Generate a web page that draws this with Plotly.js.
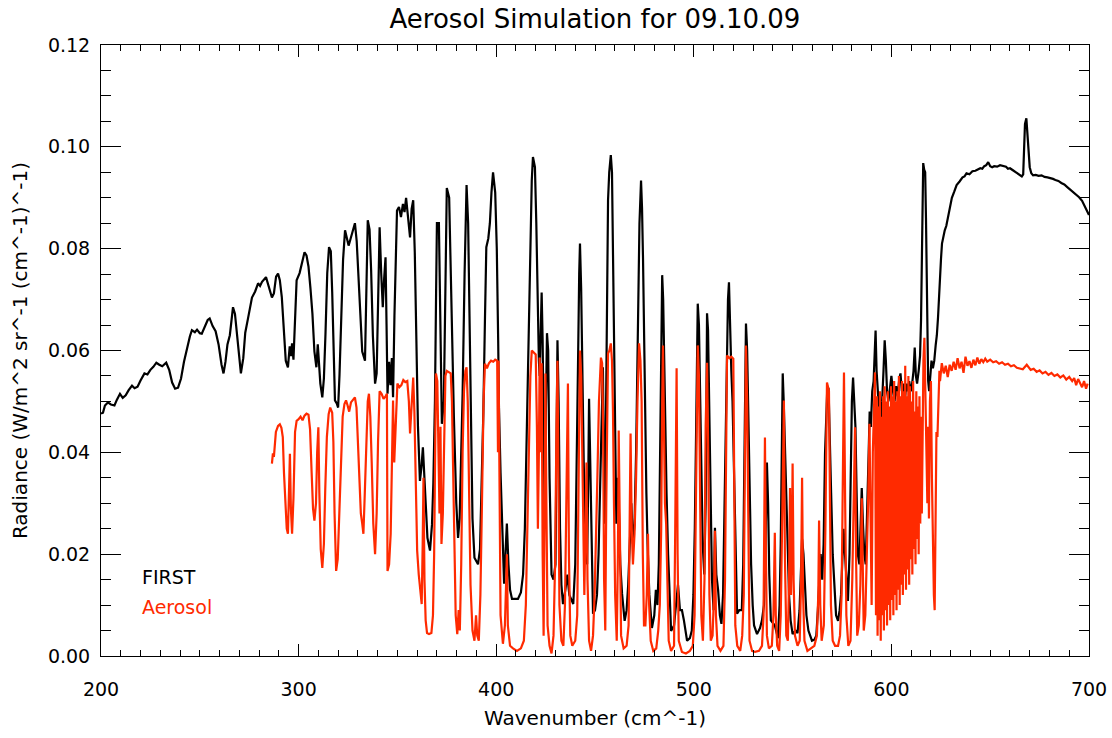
<!DOCTYPE html>
<html><head><meta charset="utf-8">
<script src="https://cdn.plot.ly/plotly-3.0.1.min.js"></script>
<style>html,body{margin:0;padding:0;background:#fff}</style>
</head><body><div id="chart" style="width:1112px;height:738px"></div>
<script>
// ---------- data (wavenumber cm^-1, radiance) ----------
const firstPart1 = [[200,0.0476],[201,0.0478],[202,0.0492],[203.5,0.0498],[205,0.0494],[206.8,0.0492],[208,0.0503],[209.6,0.0515],[211,0.0507],[212.5,0.0512],[214,0.0522],[215.7,0.0531],[217,0.0526],[218.5,0.0529],[220,0.0541],[222,0.0555],[223.5,0.0553],[225,0.0562],[226.5,0.0568],[228,0.0576],[229.5,0.0572],[231,0.0569],[233,0.0576],[234.5,0.0562],[236,0.0537],[237.5,0.0525],[239,0.0527],[240.5,0.0545],[242,0.0578],[243.5,0.0606],[245,0.0628],[246,0.064],[247.5,0.0636],[248.6,0.0641],[250,0.0634],[251,0.0633],[252.5,0.0645],[254,0.066],[255,0.0663],[256.5,0.0648],[258,0.0638],[259.5,0.0612],[261,0.0572],[262,0.0555],[263,0.0578],[264,0.0612],[265.2,0.063],[266.2,0.0672],[266.8,0.0685],[267.8,0.0672],[268.6,0.064],[269.5,0.0592],[270.8,0.0555],[272,0.0585],[273,0.0635],[274.5,0.0665],[276.4,0.0704],[278,0.0716],[279.5,0.0732],[280.5,0.0727],[281.5,0.0735],[283.5,0.0744],[285,0.0722],[286.5,0.0704],[287.5,0.0712],[288.6,0.0745],[289.6,0.0751],[290.5,0.0738]];
const firstPart2 = [[291.5,0.0705],[292.5,0.064],[293.5,0.058],[294.6,0.0567],[295.5,0.0608],[296.1,0.0589],[296.7,0.0614],[297.4,0.0582],[298.2,0.0665],[299,0.0738],[300.5,0.0752],[302,0.0778],[303,0.0793],[304,0.0787],[305,0.0765],[306,0.0722],[307,0.0672],[308,0.0598],[309,0.0567],[309.7,0.0612],[310.3,0.0575],[311,0.0535],[312,0.0508],[312.8,0.0545],[313.6,0.0632],[314.5,0.0752],[315.4,0.0803],[316.3,0.0795],[317,0.0715],[317.7,0.0608],[318.4,0.0502],[319.3,0.0496],[320,0.0488],[320.7,0.0552],[321.6,0.0665],[322.5,0.0778],[323.5,0.0836],[324.5,0.0822],[325.3,0.0806],[326.2,0.0818],[327.2,0.0834],[328.5,0.085],[329.4,0.0815],[330.3,0.0748],[331.2,0.0662],[332.2,0.0598],[333.6,0.058],[334.3,0.0702],[335,0.0856],[335.9,0.0838],[336.7,0.0758],[337.6,0.0628],[338.7,0.0535],[339.5,0.0555],[340.3,0.0705],[341,0.0842],[341.8,0.0752],[342.6,0.0685],[343.3,0.0742],[344,0.0783],[344.5,0.0652],[345,0.0515],[345.8,0.0578],[346.5,0.0532],[347.2,0.0585],[347.8,0.0508],[348.5,0.0668],[349.2,0.0812],[349.8,0.0875],[350.8,0.0882],[351.8,0.0862],[352.8,0.0888],[353.6,0.0872],[354.4,0.09],[355.4,0.0858],[356.4,0.0822],[357.2,0.0878],[358,0.0895],[358.8,0.0792],[359.4,0.0645],[360.4,0.0452],[361.4,0.0344],[362.2,0.0372],[362.9,0.041],[363.6,0.0352],[364.4,0.0295],[365.2,0.0232],[366.5,0.0207],[367.5,0.0258]];
const firstPart3 = [[368.2,0.034],[369,0.05],[369.6,0.072],[370,0.085],[371,0.085],[371.8,0.067],[372.5,0.0456],[373.5,0.05],[374.3,0.078],[375,0.0919],[376.2,0.09],[377,0.075],[377.8,0.06],[378.6,0.0468],[379.8,0.03],[380.7,0.0232],[381.5,0.027],[382.3,0.038],[383,0.0515],[384,0.075],[385,0.0925],[385.8,0.085],[386.5,0.065],[387.2,0.042],[388,0.027],[389,0.0193],[390,0.0185],[390.8,0.018],[391.8,0.021],[392.6,0.032],[393.5,0.048],[394.3,0.066],[395,0.0803],[396,0.082],[396.8,0.085],[397.6,0.091],[398.4,0.095],[399.5,0.091],[400.3,0.08],[401,0.062],[401.4,0.0488],[402.2,0.036],[403,0.027],[404,0.0142],[404.8,0.021],[405.4,0.026],[406.2,0.018],[407,0.013],[408,0.0112],[411,0.0112],[412.5,0.0125],[413.6,0.016],[414.5,0.025],[415.2,0.04],[416,0.055],[416.8,0.075],[417.5,0.088],[418,0.0934],[418.6,0.098],[419.6,0.096],[420.3,0.085],[421,0.068],[421.6,0.058],[422,0.055],[422.5,0.065],[423,0.0714],[423.5,0.062],[424,0.042],[424.5,0.028],[425.2,0.05],[425.7,0.0634],[426.3,0.06],[427,0.035],[428,0.016],[429,0.015],[430,0.018],[430.6,0.045],[431,0.062],[431.6,0.05],[432.3,0.025],[433,0.014],[433.8,0.0102],[435,0.013],[436,0.016],[437,0.012],[438,0.011],[439,0.0102],[440,0.018],[440.7,0.034],[441.5,0.06],[442,0.075],[442.4,0.081],[443,0.072],[443.6,0.055],[444.3,0.038],[445,0.026],[446,0.018],[446.6,0.035],[447,0.0505],[447.6,0.038],[448.3,0.02],[449,0.0083]];
const firstPart4 = [[450,0.009],[451,0.012],[451.8,0.02],[452.5,0.032],[453.3,0.048],[454,0.0567],[454.5,0.04],[455,0.026],[455.5,0.045],[455.8,0.061],[456.2,0.078],[456.6,0.0895],[457.2,0.095],[458,0.0984],[458.6,0.095],[459,0.083],[459.6,0.064],[460.2,0.042],[460.8,0.026],[461.4,0.035],[462,0.03],[462.8,0.018],[463.7,0.0122],[465,0.0069],[466,0.009],[466.8,0.014],[467.6,0.022],[468.4,0.03],[469.2,0.022],[470,0.026],[470.8,0.04],[471.3,0.055],[471.8,0.0704],[472.5,0.085],[473.3,0.0934],[473.8,0.088],[474.3,0.078],[474.8,0.062],[475.3,0.048],[476,0.032],[476.6,0.022],[477.5,0.012],[478.8,0.0055],[480,0.008],[480.8,0.013],[481.6,0.01],[482.3,0.018],[483,0.045],[483.6,0.062],[484,0.0748],[484.5,0.07],[485,0.058],[485.6,0.045],[486.2,0.032],[487,0.02],[487.8,0.01],[488.5,0.0049],[490,0.006],[491,0.01],[492,0.014],[493,0.009],[494,0.009],[495,0.007],[496.6,0.003],[498,0.0035],[499,0.005],[499.8,0.012],[500.5,0.025],[501.2,0.045],[501.6,0.058],[502,0.0692],[502.6,0.065],[503.2,0.05],[503.8,0.032],[504.5,0.022],[505.3,0.016],[506,0.03],[506.4,0.05],[506.7,0.0673],[507.2,0.064],[507.8,0.05],[508.5,0.032],[509.2,0.015],[510,0.009],[510.7,0.0252],[511.4,0.016],[512.3,0.013],[513.2,0.008],[514,0.0063],[514.8,0.012],[515.5,0.028],[516.2,0.05],[516.8,0.062],[517.3,0.07],[517.8,0.0734],[518.4,0.062],[519,0.056],[519.6,0.05],[520.2,0.038],[520.8,0.025],[521.4,0.012],[521.9,0.0083],[523,0.009],[524.3,0.009],[525,0.018],[525.6,0.038],[526,0.055],[526.4,0.0653],[527,0.06],[527.6,0.045],[528.3,0.03],[529,0.018],[529.8,0.01],[530.5,0.006],[532,0.0043],[533.5,0.0055],[534.5,0.007],[535.5,0.01],[536.3,0.022],[537,0.038],[537.6,0.03],[538.2,0.016],[539,0.007],[540,0.0065]];
const firstPart5 = [[541,0.006],[542.6,0.0035],[543.4,0.01],[544,0.022],[544.5,0.04],[545,0.0555],[545.5,0.05],[546,0.042],[546.8,0.03],[547.5,0.02],[548.2,0.012],[549,0.007],[550,0.0043],[551.5,0.005],[552.5,0.0045],[553.5,0.009],[554.2,0.015],[554.8,0.023],[555.5,0.02],[556.2,0.014],[557,0.008],[558,0.005],[559.8,0.003],[561,0.0032],[562,0.004],[562.8,0.009],[563.5,0.016],[564.2,0.02],[565,0.015],[565.7,0.022],[566.4,0.0397],[567,0.048],[567.6,0.053],[568.2,0.0525],[568.8,0.045],[569.5,0.032],[570.3,0.02],[571.2,0.012],[572,0.008],[573,0.0069],[573.8,0.009],[574.5,0.012],[575.2,0.02],[575.8,0.025],[576.5,0.02],[577.2,0.016],[578,0.0108],[578.8,0.02],[579.4,0.038],[580,0.05],[580.6,0.0547],[581.2,0.05],[581.8,0.045],[582.4,0.032],[583,0.02],[583.8,0.018],[584.5,0.028],[585,0.033],[585.6,0.026],[586.3,0.02],[587,0.018],[587.8,0.028],[588.5,0.04],[589,0.048],[589.6,0.045],[590.3,0.052],[591,0.054],[591.6,0.06],[592,0.0639],[592.5,0.056],[593,0.052],[593.8,0.048],[594.5,0.046],[595.3,0.05],[596,0.056],[596.6,0.062],[597.2,0.058],[597.8,0.052],[598.5,0.05],[599.3,0.053],[600,0.055],[600.8,0.052],[601.6,0.05],[602.4,0.053],[603.2,0.051],[604,0.0545],[604.6,0.0555],[605.3,0.052],[606,0.0535],[606.8,0.05],[607.5,0.0535],[608.2,0.052],[609,0.054],[609.8,0.052],[610.5,0.0535],[611.2,0.056],[611.8,0.0606],[612.4,0.055],[613,0.0535],[613.8,0.056],[614.5,0.059],[615,0.066],[615.5,0.0777],[615.8,0.09],[616.1,0.0968],[616.6,0.0955],[617.1,0.095],[617.5,0.086],[617.8,0.075],[618.2,0.062],[618.6,0.054],[619.1,0.052],[619.6,0.055],[620.3,0.058],[621,0.0565],[621.7,0.058],[622.4,0.061],[623,0.063],[623.6,0.0665],[624.1,0.071],[624.6,0.075]];
const firstPart6 = [[625.1,0.078],[625.6,0.081],[626.3,0.0825],[627,0.0836],[627.8,0.0845],[628.5,0.086],[629.5,0.088],[630.6,0.09],[631.8,0.0912],[633,0.0925],[634.5,0.0932],[636,0.094],[637,0.0942],[638,0.0948],[639.5,0.0946],[641,0.0952],[642.5,0.0953],[644,0.0956],[645,0.0958],[646,0.0957],[647,0.0962],[648,0.0964],[649,0.097],[650,0.0962],[651,0.096],[652,0.0962],[653.5,0.0961],[655,0.0964],[656.5,0.0962],[658,0.0961],[659,0.0957],[660,0.0958],[661.5,0.0954],[663,0.095],[664.5,0.0946],[666,0.0942],[666.7,0.0946],[667.2,0.0985],[667.6,0.1045],[668.3,0.1056],[668.8,0.102],[669.3,0.099],[670,0.096],[670.8,0.0948],[671.7,0.0944],[673,0.0945],[674.5,0.0943],[676,0.0944],[677.5,0.0941],[679,0.094],[680.5,0.0939],[681.8,0.0937],[683,0.0935],[684.5,0.0933],[686,0.0929],[687.5,0.0926],[689,0.0921],[690.5,0.0916],[692,0.0911],[693.5,0.0906],[695,0.0901],[696.5,0.0894],[697.5,0.0886],[698.5,0.0878],[699.5,0.087],[700,0.0866]];

const aeroPart1 = [[286.5,0.0378],[287,0.0398],[287.5,0.0391],[288.5,0.044],[289.6,0.0452],[290.5,0.0455],[291.3,0.0448],[292,0.043],[292.6,0.036],[293.4,0.029],[294,0.025],[294.6,0.024],[295.1,0.031],[295.6,0.0397],[296.1,0.029],[296.7,0.024],[297.4,0.031],[298.2,0.044],[299,0.0462],[300,0.0465],[301,0.047],[302,0.0463],[303,0.0472],[304,0.0476],[305,0.0474],[305.8,0.0445],[306.6,0.036],[307.3,0.029],[308,0.0266],[308.8,0.03],[309.4,0.04],[310,0.0449],[310.5,0.032],[311.2,0.021],[312,0.0173],[312.8,0.022],[313.5,0.033],[314.3,0.043],[315.2,0.0475],[316,0.0488],[317,0.0478],[317.6,0.042],[318.2,0.028],[319,0.0167],[319.8,0.019],[320.6,0.028],[321.4,0.04],[322.3,0.047],[323.2,0.0495],[324,0.0502],[324.8,0.0492],[325.6,0.048],[326.5,0.0498],[327.5,0.0502],[328.5,0.0508],[329.3,0.0488],[330,0.042],[330.7,0.033],[331.5,0.028],[332.2,0.026],[332.8,0.024],[333.5,0.032],[334.3,0.043],[335,0.05],[335.6,0.0515],[336.3,0.047],[337,0.038],[337.8,0.026],[338.7,0.02],[339.5,0.028],[340.2,0.042],[341,0.052],[342,0.0515],[343,0.0505],[344,0.051],[344.7,0.0515],[345,0.0167],[345.8,0.018],[346.6,0.024],[347.3,0.036],[347.8,0.0502],[348.4,0.038],[349.2,0.048],[350,0.0535],[351,0.0528],[352,0.0532],[353,0.0542],[354,0.0538],[355,0.054],[355.8,0.05],[356.4,0.0437],[357.2,0.0505],[358,0.0547],[358.6,0.048],[359.2,0.034],[360,0.0207],[360.8,0.016],[361.5,0.013],[362.3,0.0102],[362.8,0.022],[363.2,0.035],[363.7,0.015],[364.3,0.007],[365,0.0045]];
const aeroPart2 = [[366,0.0043],[367.2,0.0045],[368,0.008],[368.6,0.02],[369,0.038],[369.5,0.0555],[370.2,0.054],[370.8,0.038],[371.3,0.028],[371.8,0.045],[372.3,0.022],[373,0.028],[373.7,0.048],[374.3,0.055],[375,0.056],[376,0.0558],[377,0.0555],[377.6,0.05],[378.2,0.035],[378.8,0.018],[379.5,0.008],[380.3,0.0043],[381,0.009],[381.6,0.005],[382.3,0.018],[383,0.04],[383.7,0.052],[384.4,0.056],[385,0.0567],[385.6,0.05],[386.2,0.032],[387,0.014],[388,0.005],[389,0.003],[389.8,0.008],[390.4,0.004],[391.2,0.003],[392,0.012],[392.8,0.03],[393.6,0.05],[394.3,0.0574],[395.3,0.0565],[396.3,0.0575],[397.4,0.058],[398.5,0.0578],[399.5,0.0582],[400.5,0.058],[400.9,0.04],[401.2,0.058],[401.7,0.03],[402.2,0.008],[403.4,0.0024],[404.4,0.006],[405,0.014],[405.4,0.02],[405.9,0.006],[407,0.002],[408.5,0.0015],[410.5,0.001],[412.5,0.0015],[414,0.003],[415,0.01],[415.8,0.025],[416.6,0.042],[417.3,0.055],[418,0.06],[419,0.0595],[420,0.0592],[420.6,0.045],[421.1,0.025],[421.6,0.04],[422,0.0586],[422.5,0.04],[423,0.0575],[423.5,0.02],[424,0.004],[424.5,0.03],[424.9,0.0555],[425.4,0.03],[426,0.006],[427,0.002],[428,0.0005],[429,0.004],[429.8,0.018],[430.5,0.045],[431,0.058],[431.5,0.035],[432,0.01],[433,0.003],[434,0.002],[434.8,0.01],[435.6,0.03],[436.3,0.0535],[436.8,0.02],[437.5,0.004],[438.5,0.002],[440,0.003],[441,0.008],[441.6,0.03],[442,0.05],[442.4,0.06],[443,0.055],[443.5,0.042],[444,0.025],[444.6,0.012],[445.3,0.028],[445.7,0.038],[446.2,0.015],[447,0.003],[448,0.001],[449,0.004],[449.8,0.012]];
const aeroPart3 = [[450.5,0.022],[451.2,0.035],[452,0.05],[452.6,0.057],[453,0.0586],[453.6,0.0575],[454.1,0.045],[454.6,0.015],[455.2,0.005],[455.7,0.03],[456.2,0.056],[456.6,0.0594],[457.3,0.06],[458,0.0614],[458.6,0.058],[459.1,0.048],[459.6,0.03],[460.2,0.012],[461,0.003],[461.6,0.02],[462,0.0443],[462.5,0.02],[463.2,0.004],[464.5,0.0015],[466,0.002],[467,0.006],[467.5,0.025],[468,0.0437],[468.6,0.025],[469.2,0.018],[470,0.024],[470.8,0.035],[471.5,0.05],[472.3,0.0614],[473,0.058],[473.6,0.05],[474.2,0.02],[474.8,0.006],[475.5,0.006],[476.2,0.012],[476.8,0.024],[477.4,0.01],[478.2,0.003],[479.5,0.001],[481,0.0015],[482,0.005],[482.8,0.01],[483.5,0.025],[484,0.05],[484.4,0.061],[484.9,0.045],[485.4,0.03],[486,0.026],[486.6,0.012],[487.3,0.003],[488.5,0.001],[490,0.002],[490.6,0.025],[491.3,0.0565],[491.8,0.02],[492.4,0.003],[494,0.0008],[496,0.0005],[498,0.001],[499.5,0.002],[500.4,0.008],[501,0.025],[501.5,0.045],[502,0.061],[502.6,0.055],[503.2,0.035],[503.8,0.008],[504.6,0.003],[505.4,0.015],[506,0.045],[506.7,0.0576],[507.3,0.04],[507.9,0.012],[508.6,0.003],[509.5,0.004],[510.2,0.012],[510.7,0.0246],[511.2,0.008],[512,0.002],[513.5,0.001],[515,0.002],[515.8,0.015],[516.3,0.045],[516.8,0.059],[518,0.0585],[519,0.0588],[520,0.0584],[520.5,0.03],[521,0.006],[522,0.002],[523.5,0.001],[524.5,0.004],[525.3,0.012],[525.8,0.035],[526.4,0.061],[527,0.05],[527.5,0.025],[528.2,0.003],[529.5,0.001],[531,0.0008],[533,0.001],[534.5,0.002],[535.3,0.008],[535.7,0.025],[536,0.0429],[536.5,0.02],[537,0.004],[538,0.0015],[539.5,0.002]];
const aeroPart4 = [[540.3,0.008],[541,0.0242],[541.5,0.008],[542.2,0.002],[543.2,0.001],[544,0.008],[544.8,0.028],[545.6,0.0502],[546.1,0.02],[546.8,0.004],[547.6,0.003],[548.2,0.015],[548.7,0.033],[549.2,0.012],[549.7,0.025],[550,0.0378],[550.5,0.015],[551.2,0.004],[552.5,0.002],[553.6,0.003],[554.3,0.015],[554.8,0.035],[555.3,0.012],[556,0.003],[557.5,0.001],[559.5,0.0015],[561,0.002],[562.3,0.004],[563,0.012],[563.4,0.0266],[564,0.01],[564.7,0.003],[565.8,0.006],[566.6,0.025],[567.4,0.0537],[568.4,0.052],[568.9,0.03],[569.4,0.01],[570.3,0.003],[571.5,0.002],[573,0.002],[574,0.004],[574.8,0.012],[575.5,0.035],[576,0.0557],[576.6,0.03],[577.2,0.008],[578.2,0.002],[579.3,0.003],[580.2,0.015],[580.8,0.03],[581.6,0.0449],[582.1,0.02],[582.7,0.004],[583.5,0.006],[584.3,0.014],[585,0.031],[585.5,0.012],[586,0.005],[586.8,0.008],[587.5,0.018],[588.2,0.03],[588.9,0.0456],[589.5,0.02],[590,0.01],[590.6,0.04],[591.2,0.052],[591.7,0.0557],[592.2,0.008]];
const aeroPart5 = [[592.6,0.051],[593,0.004],[593.4,0.049],[593.8,0.007],[594.2,0.052],[594.6,0.003],[595,0.047],[595.4,0.008],[595.8,0.051],[596.2,0.005],[596.6,0.053],[597,0.009],[597.4,0.05],[597.8,0.006],[598.2,0.052],[598.6,0.01],[599,0.049],[599.4,0.007],[599.8,0.053],[600.2,0.011],[600.6,0.051],[601,0.008],[601.4,0.054],[601.8,0.012],[602.2,0.05],[602.6,0.009],[603,0.052],[603.4,0.013],[603.8,0.055],[604.2,0.01],[604.6,0.051],[605,0.014],[605.4,0.054],[605.8,0.012],[606.2,0.052],[606.6,0.016],[607,0.057],[607.4,0.013],[607.8,0.051],[608.2,0.017],[608.6,0.055],[609,0.014],[609.4,0.053],[609.8,0.019],[610.2,0.05],[610.6,0.016],[611,0.054],[611.4,0.021],[611.8,0.048],[612.2,0.018],[612.6,0.052],[613,0.023],[613.4,0.049],[613.8,0.02],[614.2,0.051],[614.6,0.026],[615,0.047],[615.4,0.028],[615.8,0.052],[616.2,0.058],[616.7,0.0625],[617.2,0.05],[617.7,0.04],[618.2,0.03],[618.6,0.045],[619,0.027],[619.5,0.05],[620,0.054],[620.5,0.035],[621,0.02],[621.5,0.012],[621.9,0.009],[622.3,0.03],[622.8,0.044],[623.3,0.043],[623.8,0.05],[624.3,0.056]];
const aeroPart6 = [[624.6,0.054],[625.5,0.0575],[626.5,0.0555],[627.5,0.057],[628.5,0.0548],[629.5,0.0572],[630.5,0.056],[631.5,0.0578],[632.5,0.0562],[633.5,0.0585],[634.5,0.0565],[635.5,0.0578],[636.5,0.0556],[637.5,0.0588],[638.5,0.057],[639.5,0.0579],[640.5,0.0566],[641.5,0.0582],[642.5,0.0571],[643.5,0.0586],[644.5,0.0574],[645.5,0.0583],[646.5,0.0577],[647.5,0.0584],[648.5,0.0578],[650,0.0582],[651.5,0.0577],[653,0.0579],[654.5,0.0574],[656,0.0577],[657.5,0.0572],[659,0.0574],[660.5,0.0569],[662,0.0571],[663.5,0.0566],[665,0.0565],[666.5,0.0563],[668.5,0.0572],[670.5,0.0562],[672,0.0564],[673.5,0.0558],[675,0.0561],[676.5,0.0555],[678,0.0558],[679.5,0.0552],[681,0.0556],[682.5,0.055],[684,0.0553],[685.5,0.0547],[687,0.0551],[688.5,0.0543],[690,0.0548],[691.5,0.054],[692.5,0.0546],[693.5,0.0532],[694.5,0.0544],[695.5,0.0536],[696.5,0.0528],[697.5,0.054],[698.5,0.0525],[699.3,0.0535]];

const seriesNames = ['FIRST', 'Aerosol'];
const seriesColors = ['#000000', '#ff2a00'];
const chartTitle = 'Aerosol Simulation for 09.10.09';
const xTitle = 'Wavenumber (cm^-1)';
const yTitle = 'Radiance (W/m^2 sr^-1 (cm^-1)^-1)';

// ---------- build ----------
const firstAll = [].concat(firstPart1, firstPart2, firstPart3, firstPart4, firstPart5, firstPart6);
const aeroAll = [].concat(aeroPart1, aeroPart2, aeroPart3, aeroPart4, aeroPart5, aeroPart6);
const FONT = 'DejaVu Sans, Verdana, sans-serif';

const traces = [
  {x: firstAll.map(p => p[0]), y: firstAll.map(p => p[1]), type: 'scatter', mode: 'lines',
   name: seriesNames[0], line: {color: seriesColors[0], width: 2.2}, hoverinfo: 'skip'},
  {x: aeroAll.map(p => p[0]), y: aeroAll.map(p => p[1]), type: 'scatter', mode: 'lines',
   name: seriesNames[1], line: {color: seriesColors[1], width: 2.2}, hoverinfo: 'skip'}
];

const layout = {
  width: 1112, height: 738,
  margin: {l: 101, r: 23, t: 45, b: 82},
  paper_bgcolor: '#fff', plot_bgcolor: '#fff',
  showlegend: false,
  font: {family: FONT, size: 19, color: '#000'},
  title: {text: chartTitle, font: {family: FONT, size: 26, color: '#000'},
          x: 0.535, xanchor: 'center', y: 0.975, yanchor: 'middle'},
  xaxis: {
    range: [200, 700], dtick: 100, tick0: 200, ticks: 'inside', ticklen: 12, tickwidth: 1,
    tickcolor: '#000', mirror: 'ticks', showline: true, linecolor: '#000', linewidth: 1,
    showgrid: false, zeroline: false, ticklabelstandoff: 16,
    tickfont: {family: FONT, size: 19, color: '#000'},
    minor: {dtick: 10, ticks: 'inside', ticklen: 6, tickcolor: '#000', tickwidth: 1, showgrid: false},
    title: {text: xTitle, font: {family: FONT, size: 20, color: '#000'}, standoff: 12},
    automargin: false
  },
  yaxis: {
    range: [0, 0.12], dtick: 0.02, tick0: 0, tickformat: '.2f', ticks: 'inside', ticklen: 20, tickwidth: 1,
    tickcolor: '#000', mirror: 'ticks', showline: true, linecolor: '#000', linewidth: 1,
    showgrid: false, zeroline: false, ticklabelstandoff: 6,
    tickfont: {family: FONT, size: 19, color: '#000'},
    minor: {dtick: 0.005, ticks: 'inside', ticklen: 10, tickcolor: '#000', tickwidth: 1, showgrid: false},
    title: {text: yTitle, font: {family: FONT, size: 20, color: '#000'}, standoff: 14},
    automargin: false
  },
  annotations: [
    {text: seriesNames[0], xref: 'paper', yref: 'paper', x: 0.0395, y: 0.1295, xanchor: 'left', yanchor: 'middle',
     showarrow: false, font: {family: FONT, size: 19, color: seriesColors[0]}},
    {text: seriesNames[1], xref: 'paper', yref: 'paper', x: 0.0395, y: 0.0803, xanchor: 'left', yanchor: 'middle',
     showarrow: false, font: {family: FONT, size: 19, color: seriesColors[1]}}
  ]
};

Plotly.newPlot('chart', traces, layout, {staticPlot: true, displayModeBar: false});
</script></body></html>
